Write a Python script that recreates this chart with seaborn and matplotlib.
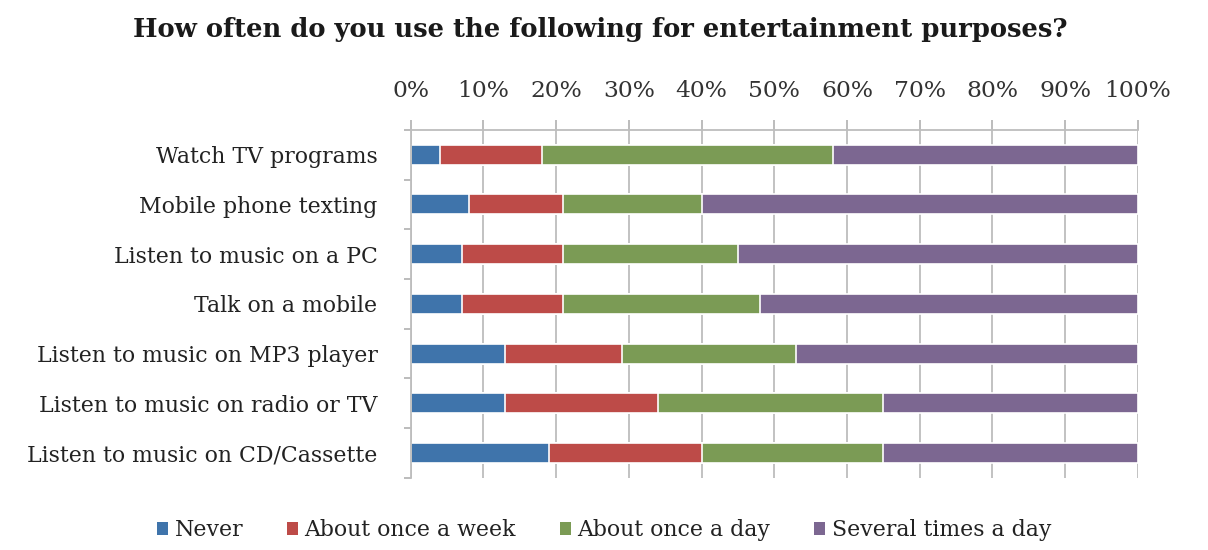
import numpy as np
import pandas as pd
import matplotlib
matplotlib.use("Agg")
import matplotlib.pyplot as plt
import seaborn as sns
from matplotlib.patches import Patch
from matplotlib.ticker import FixedLocator, PercentFormatter

activities = [
    "Watch TV programs",
    "Mobile phone texting",
    "Listen to music on a PC",
    "Talk on a mobile",
    "Listen to music on MP3 player",
    "Listen to music on radio or TV",
    "Listen to music on CD/Cassette",
]
never = [4, 8, 7, 7, 13, 13, 19]
once_week = [14, 13, 14, 14, 16, 21, 21]
once_day = [40, 19, 24, 27, 24, 31, 25]
several_day = [42, 60, 55, 52, 47, 35, 35]

series_names = ["Never", "About once a week", "About once a day", "Several times a day"]
series_values = [never, once_week, once_day, several_day]
colors = ["#3f74ab", "#bd4b48", "#7b9b55", "#7c6791"]

sns.set_theme(style="white")
plt.rcParams["font.family"] = ["DejaVu Serif"]

df = pd.DataFrame({"activity": activities})
for name, vals in zip(series_names, series_values):
    df[name] = vals
cum = df[series_names].cumsum(axis=1)

fig = plt.figure(figsize=(12.08, 5.5), dpi=100)
ax = fig.add_axes([0.340, 0.131, 0.602, 0.633])

# stacked bars: draw cumulative totals from the outermost segment inward
for name, color in reversed(list(zip(series_names, colors))):
    sns.barplot(x=cum[name], y=df["activity"], orient="h", color=color,
                width=0.4, edgecolor="white", linewidth=1.2, ax=ax,
                saturation=1)

ax.set_xlim(0, 100)
ax.set_ylim(len(activities) - 0.5, -0.5)
ax.set_xlabel("")
ax.set_ylabel("")

ax.xaxis.tick_top()
ax.xaxis.set_major_locator(FixedLocator(np.arange(0, 101, 10)))
ax.xaxis.set_major_formatter(PercentFormatter(decimals=0))
ax.tick_params(axis="x", which="major", top=True, length=7, width=1.2,
               color="#b0b0b0", pad=13, labelsize=16.8, labelcolor="#333333")
ax.grid(axis="x", color="#bdbdbd", linewidth=1.3)
ax.grid(axis="y", visible=False)
ax.set_axisbelow(True)

ax.yaxis.set_minor_locator(FixedLocator(np.arange(-0.5, len(activities), 1.0)))
ax.tick_params(axis="y", which="major", left=False, pad=18, labelsize=15.8,
               labelcolor="#222222")
ax.tick_params(axis="y", which="minor", left=True, length=5, width=1.2,
               color="#b0b0b0")

for side in ["right", "bottom"]:
    ax.spines[side].set_visible(False)
for side in ["top", "left"]:
    ax.spines[side].set_color("#bdbdbd")
    ax.spines[side].set_linewidth(1.3)

fig.suptitle("How often do you use the following for entertainment purposes?",
             x=0.497, y=0.97, fontsize=18.6, fontweight="bold", color="#1a1a1a")

handles = [Patch(facecolor=c, edgecolor="none") for c in colors]
fig.legend(handles, series_names, loc="lower center", ncol=4, frameon=False,
           bbox_to_anchor=(0.5, -0.02), fontsize=15.8, handlelength=0.5,
           handleheight=0.5, handletextpad=0.3, columnspacing=2.0,
           labelcolor="#222222")

fig.savefig("out.png", dpi=100, facecolor="white")
